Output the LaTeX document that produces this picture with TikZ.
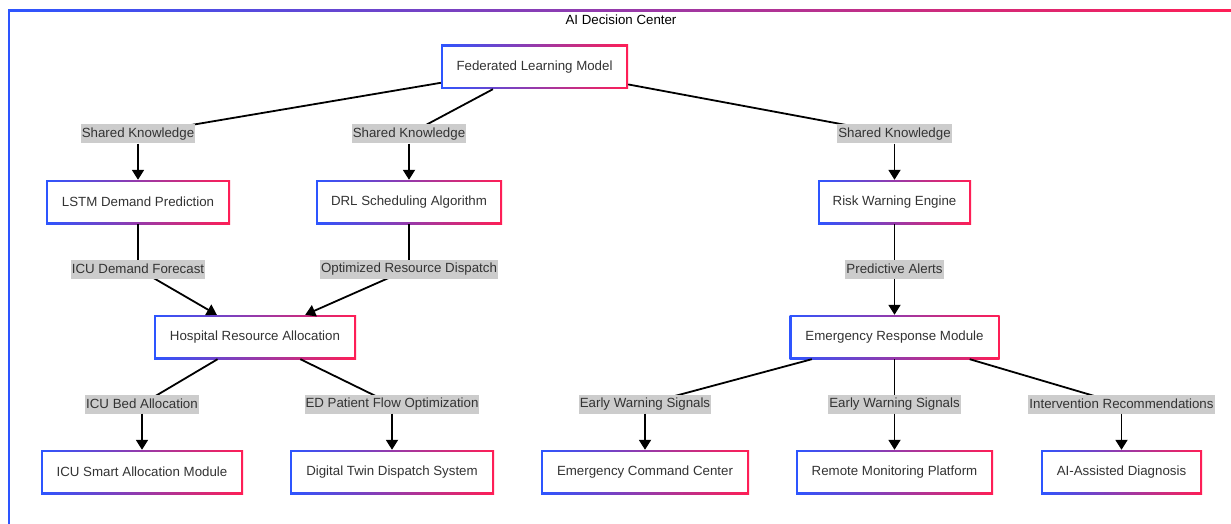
\documentclass[tikz,border=0pt]{standalone}
\usepackage{fontspec}
\setmainfont{Liberation Sans}
\usetikzlibrary{arrows.meta}
\definecolor{gb}{RGB}{45,85,255}
\definecolor{gr}{RGB}{255,30,85}
\definecolor{txt}{RGB}{51,51,51}
\definecolor{lblbg}{RGB}{204,204,204}
\begin{document}
\begin{tikzpicture}[x=1pt,y=-1pt,
  gbox/.style={rectangle, minimum height=44pt, inner sep=0pt, text=txt,
    font=\fontsize{13.3}{16}\selectfont,
    path picture={
      \shade[left color=gb, right color=gr] (path picture bounding box.south west) rectangle (path picture bounding box.north east);
      \fill[white] ([shift={(2pt,2pt)}]path picture bounding box.south west) rectangle ([shift={(-2pt,-2pt)}]path picture bounding box.north east);
    }},
  elabel/.style={fill=lblbg, text=txt, font=\fontsize{13.3}{16}\selectfont, inner xsep=1pt, inner ysep=0pt, minimum height=19pt},
  ln/.style={line width=1.8pt, black},
  arr/.style={ln, -{Triangle[length=10pt,width=12pt]}}]
\useasboundingbox (0,0) rectangle (1231,524);
\clip (0,0) rectangle (1231,524);
% outer frame
\shade[left color=gb, right color=gr] (8,10) rectangle (1234,530);
\fill[white] (10,12) rectangle (1232,528);
\node[font=\fontsize{13.3}{16}\selectfont, text=black] (title) at (621,20) {AI Decision Center};
% nodes
\node[gbox, minimum width=187pt] (fed) at (534.5,67) {Federated Learning Model};
\node[gbox, minimum width=184pt] (lstm) at (138,202) {LSTM Demand Prediction};
\node[gbox, minimum width=186pt] (drl) at (409,202) {DRL Scheduling Algorithm};
\node[gbox, minimum width=153pt] (risk) at (894.5,202) {Risk Warning Engine};
\node[gbox, minimum width=210pt] (emr) at (894.5,337) {Emergency Response Module};
\node[gbox, minimum width=202pt] (hosp) at (255,337) {Hospital Resource Allocation};
\node[gbox, minimum width=202pt] (icu) at (142,472) {ICU Smart Allocation Module};
\node[gbox, minimum width=204pt] (dt) at (392,472) {Digital Twin Dispatch System};
\node[gbox, minimum width=208pt] (ecc) at (645,472) {Emergency Command Center};
\node[gbox, minimum width=197pt] (rmp) at (894.5,472) {Remote Monitoring Platform};
\node[gbox, minimum width=161pt] (aid) at (1121.5,472) {AI-Assisted Diagnosis};
% label positions
\coordinate (c1) at (138,134);
\coordinate (c2) at (409,134);
\coordinate (c3) at (894.5,134);
\coordinate (c4) at (138,269);
\coordinate (c5) at (409,269);
\coordinate (c6) at (894.5,269);
\coordinate (c7) at (142,404);
\coordinate (c8) at (392,404);
\coordinate (c9) at (645,404);
\coordinate (c10) at (894.5,404);
\coordinate (c11) at (1121.5,404);
% first segments
\draw[ln] (fed) -- (c1);
\draw[ln] (fed) -- (c2);
\draw[ln] (fed) -- (c3);
\draw[ln] (lstm) -- (c4);
\draw[ln] (drl) -- (c5);
\draw[ln] (risk) -- (c6);
\draw[ln] (hosp) -- (c7);
\draw[ln] (hosp) -- (c8);
\draw[ln] (emr) -- (c9);
\draw[ln] (emr) -- (c10);
\draw[ln] (emr) -- (c11);
% labels
\node[elabel] (l1) at (c1) {Shared Knowledge};
\node[elabel] (l2) at (c2) {Shared Knowledge};
\node[elabel] (l3) at (c3) {Shared Knowledge};
\node[elabel] (l6) at (c6) {Predictive Alerts};
\node[elabel] (l7) at (c7) {ICU Bed Allocation};
\node[elabel] (l8) at (c8) {ED Patient Flow Optimization};
\node[elabel] (l9) at (c9) {Early Warning Signals};
\node[elabel] (l10) at (c10) {Early Warning Signals};
\node[elabel] (l11) at (c11) {Intervention Recommendations};
% arrows
\draw[arr] (l1) -- (lstm);
\draw[arr] (l2) -- (drl);
\draw[arr] (l3) -- (risk);
\draw[arr] (c4) -- (hosp);
\draw[arr] (c5) -- (hosp);
\draw[arr] (l6) -- (emr);
\draw[arr] (l7) -- (icu);
\draw[arr] (l8) -- (dt);
\draw[arr] (l9) -- (ecc);
\draw[arr] (l10) -- (rmp);
\draw[arr] (l11) -- (aid);
\node[elabel] (l4) at (c4) {ICU Demand Forecast};
\node[elabel] (l5) at (c5) {Optimized Resource Dispatch};
\end{tikzpicture}
\end{document}
